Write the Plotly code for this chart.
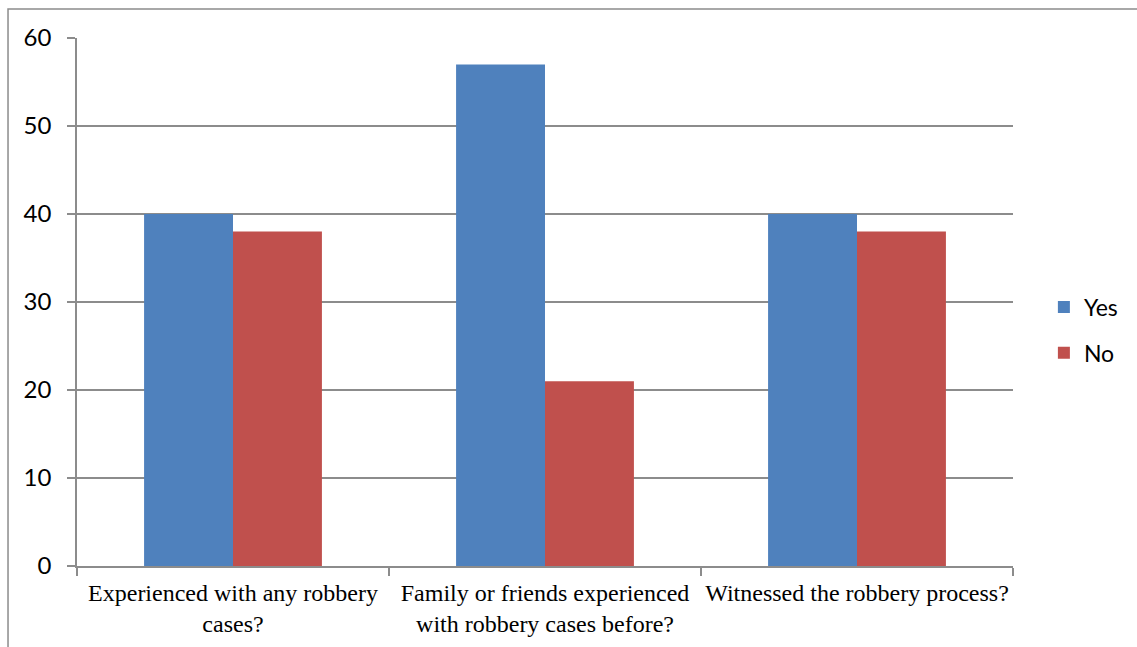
import plotly.graph_objects as go

categories = [
    "Experienced with any robbery<br>cases?",
    "Family or friends experienced<br>with robbery cases before?",
    "Witnessed the robbery process?",
]
yes_values = [40, 57, 40]
no_values = [38, 21, 38]
y_ticks = [0, 10, 20, 30, 40, 50, 60]

fig = go.Figure()
fig.add_trace(go.Bar(name="Yes", x=categories, y=yes_values,
                     marker=dict(color="#4F81BD", line=dict(width=0)),
                     legendgroup="a"))
fig.add_trace(go.Bar(name="No", x=categories, y=no_values,
                     marker=dict(color="#C0504D", line=dict(width=0)),
                     legendgroup="b"))

grey = "#8C8C8C"
fig.update_layout(
    width=1137, height=647,
    margin=dict(l=77, r=124, t=38, b=81),
    paper_bgcolor="white", plot_bgcolor="white",
    barmode="group", bargap=0.43, bargroupgap=0,
    showlegend=True,
    legend=dict(x=1.033, y=0.447, xanchor="left", yanchor="middle",
                traceorder="grouped", tracegroupgap=13,
                font=dict(family="Lato, Open Sans, sans-serif", size=23, color="black"),
                itemwidth=30, bgcolor="rgba(0,0,0,0)"),
    xaxis=dict(
        showline=True, linecolor=grey, linewidth=1.5,
        ticks="outside", tickson="boundaries", ticklen=8, tickcolor=grey, tickwidth=1.5,
        tickfont=dict(family="Liberation Serif, Times New Roman, serif", size=24, color="black"),
        tickangle=0, automargin=False,
        ticklabelstandoff=4,
        showgrid=False,
    ),
    yaxis=dict(
        range=[0, 60], tickvals=y_ticks,
        showline=True, linecolor=grey, linewidth=1.5,
        ticks="outside", ticklen=8, tickcolor=grey, tickwidth=1.5,
        showgrid=True, gridcolor=grey, gridwidth=1.5,
        tickfont=dict(family="Lato, Open Sans, sans-serif", size=24, color="black"),
        ticklabelstandoff=11, zeroline=False, automargin=False,
    ),
    shapes=[dict(
        type="path", xref="paper", yref="paper",
        path="M -0.0737,-0.3 L -0.0737,1.0549 L 1.2,1.0549",
        line=dict(color=grey, width=1.5),
    )],
)

fig.write_html("out.html")
